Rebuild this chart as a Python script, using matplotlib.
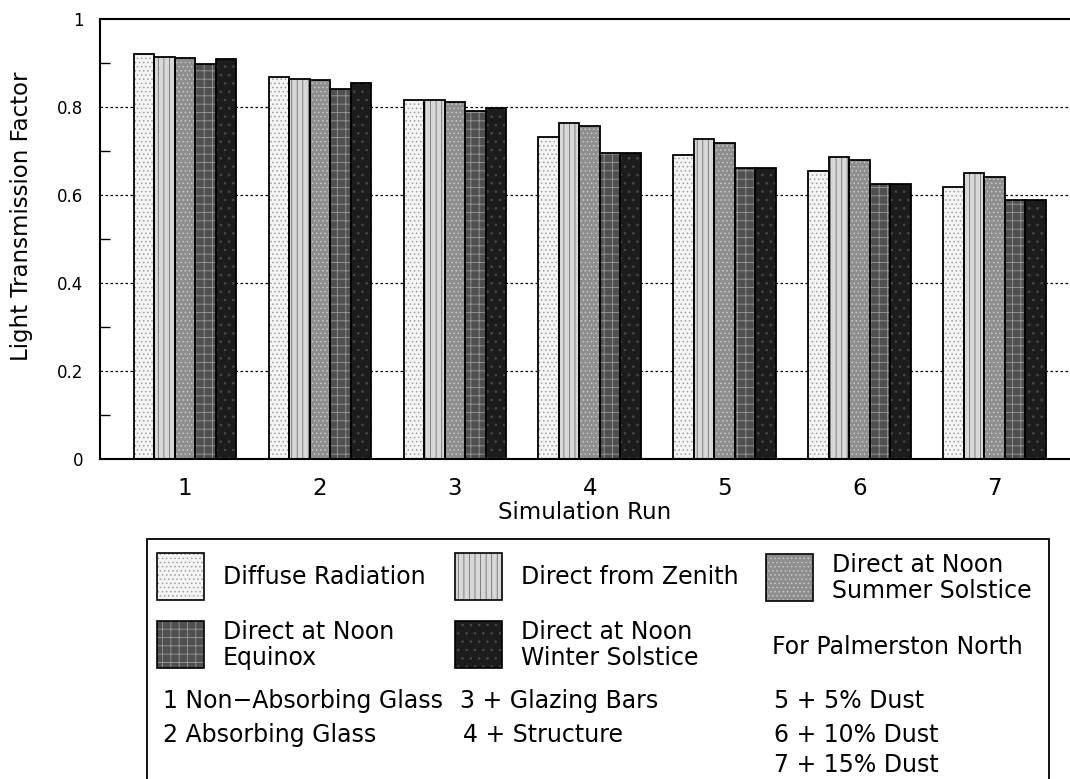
import numpy as np
import matplotlib
matplotlib.use("Agg")
import matplotlib.pyplot as plt
from matplotlib.patches import Rectangle

# data
runs = ["1", "2", "3", "4", "5", "6", "7"]
diffuse = [0.920, 0.868, 0.816, 0.732, 0.691, 0.655, 0.618]
zenith = [0.914, 0.864, 0.816, 0.764, 0.727, 0.686, 0.650]
summer = [0.912, 0.861, 0.811, 0.757, 0.718, 0.679, 0.641]
equinox = [0.898, 0.841, 0.791, 0.695, 0.661, 0.625, 0.589]
winter = [0.909, 0.855, 0.798, 0.695, 0.661, 0.625, 0.589]

series = [diffuse, zenith, summer, equinox, winter]
# (face colour, hatch, hatch colour)
styles = [
    ("#f4f4f4", "....", "#a0a0a0"),
    ("#d8d8d8", "|||", "#707070"),
    ("#8e8e8e", "....", "#c8c8c8"),
    ("#505050", "++", "#9a9a9a"),
    ("#1c1c1c", "..", "#4a4a4a"),
]

plt.rcParams["font.family"] = ["DejaVu Sans"]
plt.rcParams["hatch.linewidth"] = 0.6

W, H = 1070, 779
fig = plt.figure(figsize=(W / 100, H / 100), dpi=100)
ax = fig.add_axes([100 / W, 1 - 459 / H, (W - 100) / W, 440 / H])

x = np.arange(1, len(runs) + 1)
bw = 0.152
offsets = (np.arange(5) - 2) * bw
for vals, off, (fc, hatch, hc) in zip(series, offsets, styles):
    ax.bar(x + off, vals, bw, color=fc, hatch=hatch, edgecolor=hc, linewidth=0, zorder=2)
    ax.bar(x + off, vals, bw, fill=False, edgecolor="black", linewidth=1.3, zorder=3)

ax.set_xlim(0.37, 7.56)
ax.set_ylim(0, 1)
ax.set_xticks(x)
ax.set_xticklabels(runs, fontsize=16.5)
ax.tick_params(axis="x", length=0, pad=13)
ax.set_yticks([0, 0.2, 0.4, 0.6, 0.8, 1])
ax.set_yticklabels(["0", "0.2", "0.4", "0.6", "0.8", "1"], fontsize=12)
ax.set_yticks([0.1, 0.3, 0.5, 0.7, 0.9], minor=True)
ax.tick_params(axis="y", which="major", length=0, pad=12)
ax.tick_params(axis="y", which="minor", direction="in", length=7, width=1)
for yv in [0.2, 0.4, 0.6, 0.8]:
    ax.axhline(yv, color="black", linestyle=(0, (2, 2)), linewidth=0.9, zorder=1)
ax.spines["right"].set_visible(False)
for s in ["left", "top", "bottom"]:
    ax.spines[s].set_linewidth(1.5)

ax.set_xlabel("Simulation Run", fontsize=16.5, labelpad=1)
ax.set_ylabel("Light Transmission Factor", fontsize=16.5)
ax.yaxis.set_label_coords(-67 / 970, (459 - 216) / 440)


def fx(px):
    return px / W


def fy(py):
    return 1 - py / H


# legend box (runs off the bottom edge)
fig.patches.append(Rectangle((fx(147), fy(800)), fx(1049) - fx(147), fy(539) - fy(800),
                             transform=fig.transFigure, fill=False, edgecolor="black",
                             linewidth=1.3))

labels = ["Diffuse Radiation", "Direct from Zenith", "Direct at Noon\nSummer Solstice",
          "Direct at Noon\nEquinox", "Direct at Noon\nWinter Solstice"]
swatch_pos = [(157, 553), (455, 553), (766, 554), (157, 621), (455, 621)]
text_x = [223, 521, 832, 223, 521]
fs = 17
for (sx, sy), tx, lab, (fc, hatch, hc) in zip(swatch_pos, text_x, labels, styles):
    fig.patches.append(Rectangle((fx(sx), fy(sy + 47)), fx(47), 47 / H,
                                 transform=fig.transFigure, facecolor=fc, hatch=hatch,
                                 edgecolor=hc, linewidth=0))
    fig.patches.append(Rectangle((fx(sx), fy(sy + 47)), fx(47), 47 / H,
                                 transform=fig.transFigure, fill=False,
                                 edgecolor="black", linewidth=1.2))
    fig.text(fx(tx), fy(sy + 24), lab, fontsize=fs, va="center", ha="left",
             linespacing=1.1)

fig.text(fx(772), fy(647), "For Palmerston North", fontsize=fs, va="center")

notes = [
    (163, 701, "1 Non\u2212Absorbing Glass"),
    (460, 701, "3 + Glazing Bars"),
    (774, 701, "5 + 5% Dust"),
    (163, 735, "2 Absorbing Glass"),
    (463, 735, "4 + Structure"),
    (774, 735, "6 + 10% Dust"),
    (774, 765, "7 + 15% Dust"),
]
for nx, ny, t in notes:
    fig.text(fx(nx), fy(ny), t, fontsize=fs, va="center", ha="left")

fig.savefig("out.png", dpi=100)
